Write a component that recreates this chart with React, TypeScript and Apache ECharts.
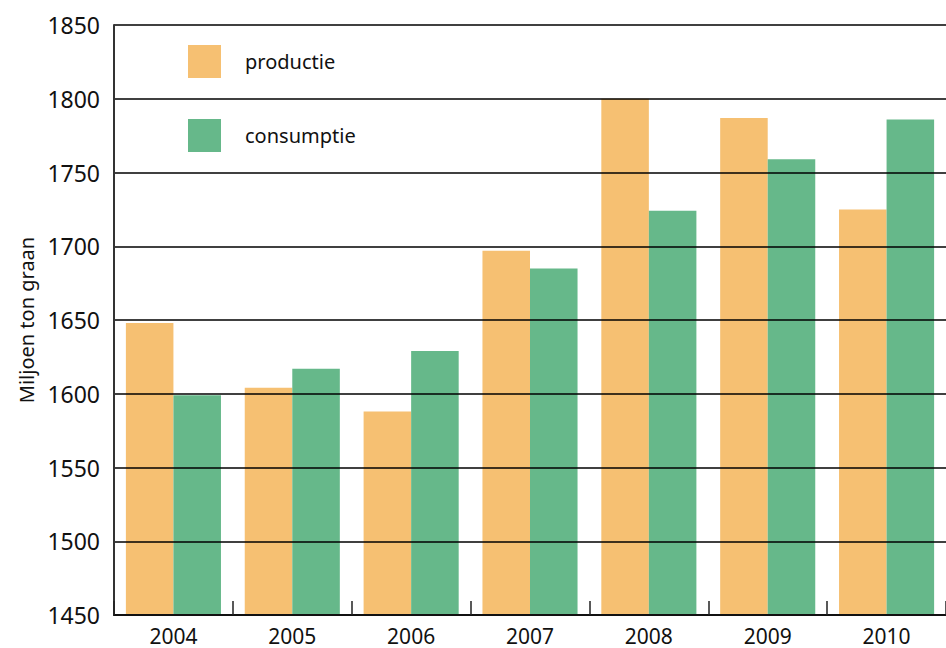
import React, { useEffect, useRef } from "react";
import * as echarts from "echarts";

const categories = ["2004", "2005", "2006", "2007", "2008", "2009", "2010"];
const productie = [1648, 1604, 1588, 1697, 1800, 1787, 1725];
const consumptie = [1599, 1617, 1629, 1685, 1724, 1759, 1786];
const seriesNames = ["productie", "consumptie"];
const axisName = "Miljoen ton graan";

const FONT = "Noto Sans";

export default function App() {
  const ref = useRef<HTMLDivElement>(null);
  useEffect(() => {
    if (!ref.current) return;
    const chart = echarts.init(ref.current, null, { renderer: "svg" });
    chart.setOption({
      animation: false,
      textStyle: { fontFamily: FONT },
      grid: { left: 114, top: 25, width: 836, height: 590, containLabel: false },
      legend: {
        orient: "vertical",
        left: 188,
        top: 45,
        padding: 0,
        itemWidth: 33,
        itemHeight: 33,
        itemGap: 41,
        icon: "rect",
        selectedMode: false,
        data: seriesNames,
        textStyle: { fontSize: 20, color: "#111", fontFamily: FONT, padding: [0, 0, 0, 19] },
      },
      xAxis: {
        type: "category",
        data: categories,
        z: 10,
        axisLine: { show: true, lineStyle: { color: "#111", width: 2 } },
        axisTick: { show: true, inside: true, length: 14, lineStyle: { color: "#222", width: 1.5 } },
        axisLabel: { fontSize: 21, color: "#111", margin: 10, fontFamily: FONT },
        splitLine: { show: false },
      },
      yAxis: {
        type: "value",
        min: 1450,
        max: 1850,
        interval: 50,
        z: 10,
        name: axisName,
        nameLocation: "middle",
        nameRotate: 90,
        nameGap: 78,
        nameTextStyle: { fontSize: 20, color: "#111", fontFamily: FONT },
        axisLine: { show: true, lineStyle: { color: "#333", width: 2 } },
        axisTick: { show: false },
        axisLabel: {
          fontSize: 23,
          color: "#111",
          margin: 14,
          fontFamily: FONT,
          formatter: (v: number) => String(v),
        },
        splitLine: { show: true, lineStyle: { color: "#000", width: 1.5 } },
      },
      series: [
        {
          name: seriesNames[0],
          type: "bar",
          data: productie,
          barGap: "0%",
          barCategoryGap: "20%",
          itemStyle: { color: "#F6C072" },
          z: 2,
        },
        {
          name: seriesNames[1],
          type: "bar",
          data: consumptie,
          barGap: "0%",
          barCategoryGap: "20%",
          itemStyle: { color: "#66B88A" },
          z: 2,
        },
      ],
    });
    return () => chart.dispose();
  }, []);
  return (
    <div
      ref={ref}
      style={{ position: "absolute", left: 0, top: 0, width: 946, height: 648, background: "#fff" }}
    />
  );
}
